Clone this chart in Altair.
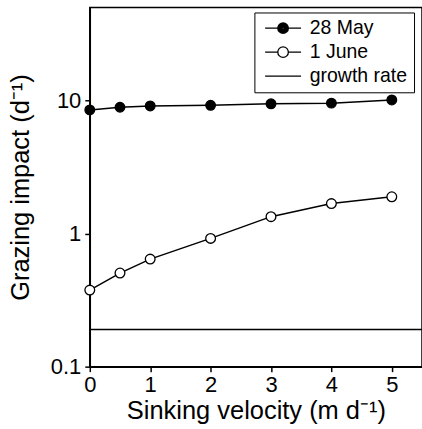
import altair as alt
import pandas as pd

# ---- data ----
velocity = [0, 0.5, 1, 2, 3, 4, 5]
may28 = [8.5, 8.9, 9.1, 9.2, 9.45, 9.55, 10.1]
june1 = [0.376, 0.505, 0.643, 0.92, 1.34, 1.68, 1.89]
growth_rate = [0.19]
series_names = ["28 May", "1 June", "growth rate"]
x_ticks = [0, 1, 2, 3, 4, 5]
y_ticks = [0.1, 1, 10]

FONT = "Liberation Sans"

df_may = pd.DataFrame({"x": velocity, "y": may28})
df_june = pd.DataFrame({"x": velocity, "y": june1})
df_growth = pd.DataFrame({"y": growth_rate})
# legend-only rows (placed below the visible range and clipped away)
df_leg = pd.DataFrame({"x": [1, 1, 1], "y": [0.01, 0.01, 0.01], "series": series_names})

xscale = alt.Scale(domain=[0, 5.5], nice=False, zero=False)
yscale = alt.Scale(type="log", domain=[0.1, 50], nice=False)

X = alt.X(
    "x:Q", scale=xscale,
    axis=alt.Axis(values=x_ticks, title="Sinking velocity (m d\u207b\u00b9)", tickSize=5,
                  labelPadding=3, titlePadding=3, labelFontSize=22, titleFontSize=25.5,
                  labelFont=FONT, titleFont=FONT, titleFontWeight="normal", grid=False,
                  labelFlush=False),
)
Y = alt.Y(
    "y:Q", scale=yscale,
    axis=alt.Axis(values=y_ticks, format="~g", title="Grazing impact (d\u207b\u00b9)", tickSize=5,
                  labelPadding=4, titlePadding=17, labelFontSize=22, titleFontSize=25.5,
                  labelFont=FONT, titleFont=FONT, titleFontWeight="normal", grid=False,
                  labelFlush=False),
)

# legend symbol paths (unit = 8 px with symbolSize 256), shifted right by S units
L = 2.25
rc = 0.66
S = 1.625


def f(v):
    return round(v + S, 3)


def ring(r):
    return f"M{f(r)},0A{r},{r},0,1,1,{f(-r)},0A{r},{r},0,1,1,{f(r)},0"


p_open = f"M{f(-L)},0L{f(-rc)},0M{f(rc)},0L{f(L)},0" + ring(rc)
p_filled = p_open + "".join(ring(r) for r in [0.53, 0.40, 0.27, 0.14, 0.04])
p_line = f"M{f(-L)},0L{f(L)},0"

leg = alt.Legend(
    orient="none", legendX=165, legendY=5, title=None, strokeColor="black",
    padding=6, labelFontSize=19.5, labelFont=FONT, labelColor="black", labelOffset=30,
    symbolStrokeWidth=1.3, symbolStrokeColor="black",
    symbolFillColor="transparent", symbolSize=256, rowPadding=3, symbolOpacity=1,
)

legend_layer = alt.Chart(df_leg).mark_point(
    filled=False, clip=True, size=256, color="black", strokeWidth=1.3, opacity=1
).encode(
    x=X, y=Y,
    shape=alt.Shape("series:N", scale=alt.Scale(domain=series_names, range=[p_filled, p_open, p_line]),
                    legend=leg),
)

rule = alt.Chart(df_growth).mark_rule(color="black", strokeWidth=1.5).encode(y=Y)

line_may = alt.Chart(df_may).mark_line(color="black", strokeWidth=1.5).encode(x=X, y=Y)
pts_may = alt.Chart(df_may).mark_point(filled=True, fill="black", stroke="black", strokeWidth=1.2,
                                       size=95, opacity=1, shape="circle").encode(x=X, y=Y)
line_june = alt.Chart(df_june).mark_line(color="black", strokeWidth=1.5).encode(x=X, y=Y)
pts_june = alt.Chart(df_june).mark_point(filled=True, fill="white", stroke="black", strokeWidth=1.3,
                                        size=95, opacity=1, shape="circle").encode(x=X, y=Y)

chart = alt.layer(
    legend_layer, rule, line_may, line_june, pts_may, pts_june
).properties(
    width=333, height=360, autosize="none",
    padding={"left": 90, "top": 7, "right": 0, "bottom": 62},
).configure_view(
    stroke="black", strokeWidth=1.5
).configure_axis(
    domainColor="black", tickColor="black", labelColor="black", titleColor="black",
    domainWidth=1.5, tickWidth=1.5,
)

chart.save("out.html", embed_options={"renderer": "svg", "actions": False})
